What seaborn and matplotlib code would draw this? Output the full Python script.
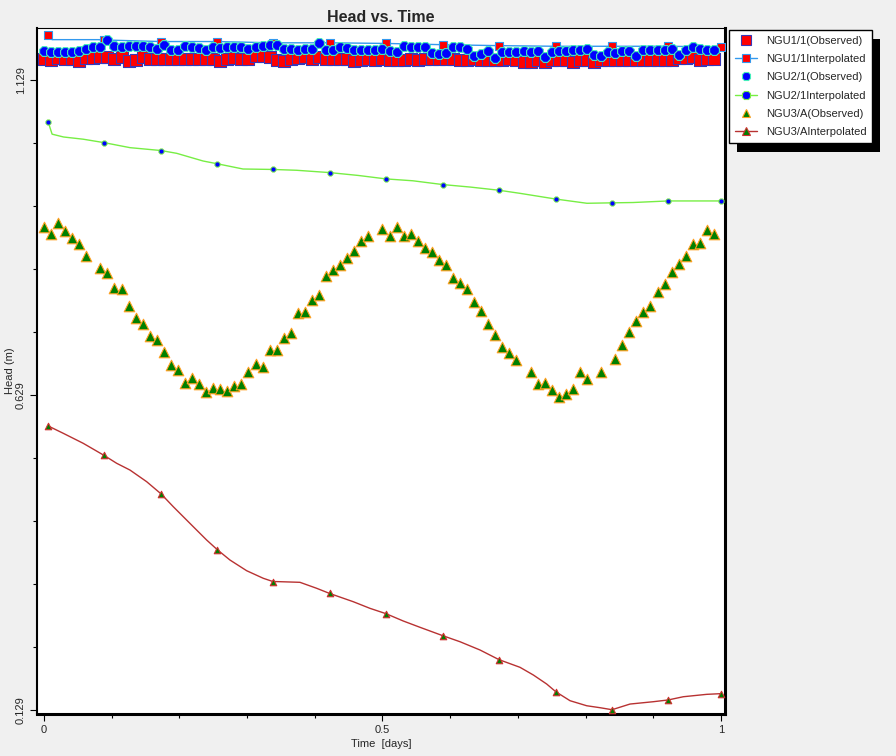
import numpy as np
import pandas as pd
import seaborn as sns
import matplotlib.pyplot as plt
from matplotlib.lines import Line2D
from matplotlib.patches import Rectangle

# %%
# observed heads, one reading every 15 min over one day
ngu1_obs = [1.163, 1.161, 1.164, 1.162, 1.163, 1.159, 1.164, 1.164, 1.165, 1.165,
            1.162, 1.165, 1.159, 1.160, 1.165, 1.162, 1.162, 1.162, 1.163, 1.163,
            1.162, 1.162, 1.162, 1.162, 1.162, 1.159, 1.162, 1.164, 1.162, 1.162,
            1.167, 1.167, 1.165, 1.161, 1.159, 1.162, 1.164, 1.165, 1.162, 1.165,
            1.162, 1.162, 1.162, 1.162, 1.159, 1.161, 1.162, 1.160, 1.162, 1.160,
            1.160, 1.160, 1.162, 1.160, 1.162, 1.162, 1.162, 1.162, 1.162, 1.160,
            1.160, 1.162, 1.160, 1.160, 1.160, 1.161, 1.162, 1.160, 1.157, 1.157,
            1.160, 1.157, 1.160, 1.160, 1.160, 1.157, 1.161, 1.161, 1.157, 1.160,
            1.160, 1.160, 1.161, 1.161, 1.161, 1.160, 1.160, 1.160, 1.160, 1.160,
            1.164, 1.164, 1.165, 1.160, 1.162, 1.162]
ngu2_obs = [1.175, 1.174, 1.173, 1.173, 1.173, 1.175, 1.178, 1.181, 1.181, 1.193,
            1.183, 1.182, 1.183, 1.183, 1.183, 1.181, 1.178, 1.185, 1.176, 1.176,
            1.183, 1.181, 1.179, 1.177, 1.181, 1.180, 1.181, 1.182, 1.181, 1.178,
            1.182, 1.183, 1.184, 1.184, 1.178, 1.178, 1.177, 1.178, 1.178, 1.187,
            1.176, 1.176, 1.182, 1.179, 1.177, 1.176, 1.176, 1.176, 1.178, 1.175,
            1.174, 1.183, 1.181, 1.181, 1.181, 1.172, 1.171, 1.172, 1.181, 1.181,
            1.178, 1.167, 1.171, 1.175, 1.164, 1.173, 1.173, 1.174, 1.175, 1.174,
            1.175, 1.166, 1.173, 1.175, 1.175, 1.177, 1.177, 1.178, 1.169, 1.167,
            1.173, 1.172, 1.175, 1.175, 1.167, 1.177, 1.177, 1.177, 1.177, 1.178,
            1.169, 1.177, 1.181, 1.178, 1.177, 1.177]
ngu3_obs = [0.895, 0.885, 0.902, 0.890, 0.878, 0.868, 0.849, np.nan, 0.830, 0.822,
            0.799, 0.798, 0.771, 0.752, 0.742, 0.722, 0.717, 0.698, 0.676, 0.668,
            0.648, 0.656, 0.646, 0.634, 0.640, 0.638, 0.636, 0.644, 0.646, 0.666,
            0.678, 0.674, 0.700, 0.700, 0.719, 0.728, 0.759, 0.760, 0.779, 0.788,
            0.818, 0.827, 0.835, 0.847, 0.858, 0.874, 0.882, np.nan, 0.892, 0.882,
            0.895, 0.882, 0.884, 0.874, 0.863, 0.856, 0.843, 0.835, 0.815, 0.807,
            0.798, 0.776, 0.763, 0.741, 0.725, 0.705, 0.696, 0.685, np.nan, 0.666,
            0.646, 0.648, 0.637, 0.626, 0.630, 0.638, 0.666, 0.654, np.nan, 0.666,
            np.nan, 0.686, 0.708, 0.729, 0.747, 0.760, 0.770, 0.793, 0.805, 0.825,
            0.837, 0.849, 0.869, 0.871, 0.891, 0.884]
obs_time = np.arange(len(ngu1_obs)) * 15 / 1440

# interpolated heads, marker every 2 hours
interp_time = [0.006, 0.089, 0.173, 0.256, 0.338, 0.422, 0.505, 0.589, 0.672,
               0.756, 0.839, 0.922, 1.0]
ngu1_interp = [1.200, 1.1925, 1.190, 1.190, 1.188, 1.188, 1.187, 1.185, 1.1835,
               1.1825, 1.1825, 1.1825, 1.1815]
ngu2_interp = [1.063, 1.0295, 1.017, 0.996, 0.987, 0.982, 0.972, 0.963, 0.954,
               0.940, 0.934, 0.937, 0.937]
ngu3_interp = [0.580, 0.533, 0.472, 0.3835, 0.333, 0.314, 0.282, 0.247, 0.209,
               0.158, 0.1295, 0.145, 0.155]

# vertices of the interpolated curves
ngu1_line_t = [0.006, 0.012, 0.080, 0.089, 0.173, 0.256, 0.338, 0.422, 0.505,
               0.589, 0.672, 0.756, 0.839, 0.922, 1.0]
ngu1_line_h = [1.200, 1.193, 1.193, 1.1925, 1.190, 1.190, 1.188, 1.188, 1.187,
               1.185, 1.1835, 1.1825, 1.1825, 1.1825, 1.1815]
ngu2_line_t = [0.006, 0.012, 0.029, 0.058, 0.089, 0.127, 0.173, 0.196, 0.235,
               0.256, 0.294, 0.338, 0.373, 0.422, 0.464, 0.505, 0.545, 0.589,
               0.630, 0.672, 0.703, 0.756, 0.802, 0.839, 0.870, 0.922, 1.0]
ngu2_line_h = [1.063, 1.043, 1.0385, 1.035, 1.0295, 1.0216, 1.017, 1.0126, 1.0004,
               0.996, 0.9877, 0.987, 0.9857, 0.982, 0.9775, 0.972, 0.969, 0.963,
               0.959, 0.954, 0.9491, 0.940, 0.9333, 0.934, 0.9345, 0.937, 0.937]
ngu3_line_t = [0.006, 0.0285, 0.058, 0.089, 0.1074, 0.127, 0.1517, 0.173, 0.191,
               0.2205, 0.2403, 0.256, 0.2747, 0.2994, 0.3239, 0.338, 0.3486,
               0.3781, 0.4028, 0.422, 0.4569, 0.4815, 0.505, 0.5307, 0.5554,
               0.589, 0.6145, 0.644, 0.672, 0.7031, 0.7228, 0.7425, 0.756, 0.777,
               0.8016, 0.8213, 0.839, 0.8656, 0.90, 0.922, 0.9443, 0.9789, 1.0]
ngu3_line_h = [0.580, 0.5682, 0.5523, 0.533, 0.5206, 0.5099, 0.4914, 0.472, 0.4517,
               0.420, 0.3988, 0.3835, 0.3671, 0.3501, 0.3381, 0.333, 0.3327,
               0.3317, 0.3222, 0.314, 0.3009, 0.2904, 0.282, 0.2703, 0.2603,
               0.247, 0.2374, 0.2243, 0.209, 0.1968, 0.1846, 0.1703, 0.158, 0.1438,
               0.1358, 0.1327, 0.1295, 0.1385, 0.1422, 0.145, 0.1501, 0.1539, 0.155]

labels = ['NGU1/1(Observed)', 'NGU1/1Interpolated', 'NGU2/1(Observed)',
          'NGU2/1Interpolated', 'NGU3/A(Observed)', 'NGU3/AInterpolated']

# %%
sns.set_style('white')
plt.rcParams['font.family'] = ['Liberation Sans', 'DejaVu Sans']

fig = plt.figure(figsize=(8.96, 7.56), dpi=100, facecolor='#f0f0f0')
ax = fig.add_axes([37 / 896, 42 / 756, 688 / 896, 686 / 756])
ax.set_facecolor('white')

blue_line = '#3399ee'
green_line = '#77ee44'
brown_line = '#b83232'

# NGU1/1
sns.scatterplot(x=obs_time, y=ngu1_obs, marker='s', s=80, color='#ff0000',
                edgecolor='#3838b8', linewidth=0.8, ax=ax, zorder=2)
sns.lineplot(x=ngu1_line_t, y=ngu1_line_h, color=blue_line, linewidth=1.0,
             sort=False, estimator=None, ax=ax, zorder=3)
sns.scatterplot(x=interp_time, y=ngu1_interp, marker='s', s=28, color='#ff0000',
                edgecolor=blue_line, linewidth=0.8, ax=ax, zorder=3)
# NGU2/1
sns.scatterplot(x=obs_time, y=ngu2_obs, marker='8', s=58, color='#0000ff',
                edgecolor='#44eebb', linewidth=0.8, ax=ax, zorder=4)
sns.lineplot(x=ngu2_line_t, y=ngu2_line_h, color=green_line, linewidth=1.0,
             sort=False, estimator=None, ax=ax, zorder=5)
sns.scatterplot(x=interp_time, y=ngu2_interp, marker='8', s=16, color='#0000ff',
                edgecolor=green_line, linewidth=0.7, ax=ax, zorder=5)
# NGU3/A
sns.scatterplot(x=obs_time, y=ngu3_obs, marker='^', s=58, color='#008000',
                edgecolor='#ffa020', linewidth=0.8, ax=ax, zorder=6)
sns.lineplot(x=ngu3_line_t, y=ngu3_line_h, color=brown_line, linewidth=1.0,
             sort=False, estimator=None, ax=ax, zorder=7)
sns.scatterplot(x=interp_time, y=ngu3_interp, marker='^', s=22, color='#008000',
                edgecolor='#d03030', linewidth=0.8, ax=ax, zorder=7)

ax.set_xlim(-0.0103, 1.0059)
ax.set_ylim(0.1227, 1.2115)

ax.set_xticks([0, 0.5, 1])
ax.set_xticklabels(['0', '0.5', '1'])
ax.set_xticks(np.arange(0.1, 1.0, 0.1), minor=True)
ax.set_yticks([0.129, 0.629, 1.129])
ax.set_yticklabels(['0.129', '0.629', '1.129'], rotation=90, va='center')
ax.set_yticks([0.229, 0.329, 0.429, 0.529, 0.729, 0.829, 0.929, 1.029], minor=True)
ax.tick_params(which='major', direction='out', length=5, width=0.8, pad=3,
               labelsize=8, color='black', bottom=True, left=True)
ax.tick_params(which='minor', direction='out', length=3, width=0.8,
               color='black', bottom=True, left=True)

for side, lw in [('top', 0.8), ('left', 1.5), ('bottom', 2.2), ('right', 2.2)]:
    ax.spines[side].set_visible(True)
    ax.spines[side].set_color('black')
    ax.spines[side].set_linewidth(lw)

ax.set_xlabel('Time  [days]', fontsize=8, labelpad=3)
ax.set_ylabel('Head (m)', fontsize=8, labelpad=1)
ax.set_title('Head vs. Time', fontsize=11.5, fontweight='bold', pad=4)

handles = [
    Line2D([], [], ls='none', marker='s', ms=7, mfc='#ff0000', mec='#3838b8', mew=0.8),
    Line2D([], [], color=blue_line, lw=1, marker='s', ms=6, mfc='#ff0000', mec=blue_line, mew=0.8),
    Line2D([], [], ls='none', marker='8', ms=6.5, mfc='#0000ff', mec='#44eebb', mew=0.8),
    Line2D([], [], color=green_line, lw=1, marker='8', ms=6.5, mfc='#0000ff', mec=green_line, mew=0.8),
    Line2D([], [], ls='none', marker='^', ms=6, mfc='#008000', mec='#ffa020', mew=0.8),
    Line2D([], [], color=brown_line, lw=1, marker='^', ms=6, mfc='#008000', mec='#d03030', mew=0.8),
]
leg = fig.legend(handles, labels, loc='upper left',
                 bbox_to_anchor=(729 / 896, 1 - 30 / 756), bbox_transform=fig.transFigure,
                 frameon=True, fancybox=False, edgecolor='black', framealpha=1,
                 facecolor='white', borderaxespad=0, fontsize=8, handlelength=2.0,
                 handletextpad=0.85, labelspacing=0.75, borderpad=0.5)
leg.get_frame().set_linewidth(1.0)
leg.set_zorder(6)

# drop shadow behind the legend
fig.canvas.draw()
bb = leg.get_window_extent().transformed(fig.transFigure.inverted())
fig.add_artist(Rectangle((bb.x0 + 8 / 896, bb.y0 - 9 / 756), bb.width, bb.height,
                         transform=fig.transFigure, facecolor='black',
                         edgecolor='none', zorder=5))

fig.savefig('out.png', dpi=100, facecolor=fig.get_facecolor())
